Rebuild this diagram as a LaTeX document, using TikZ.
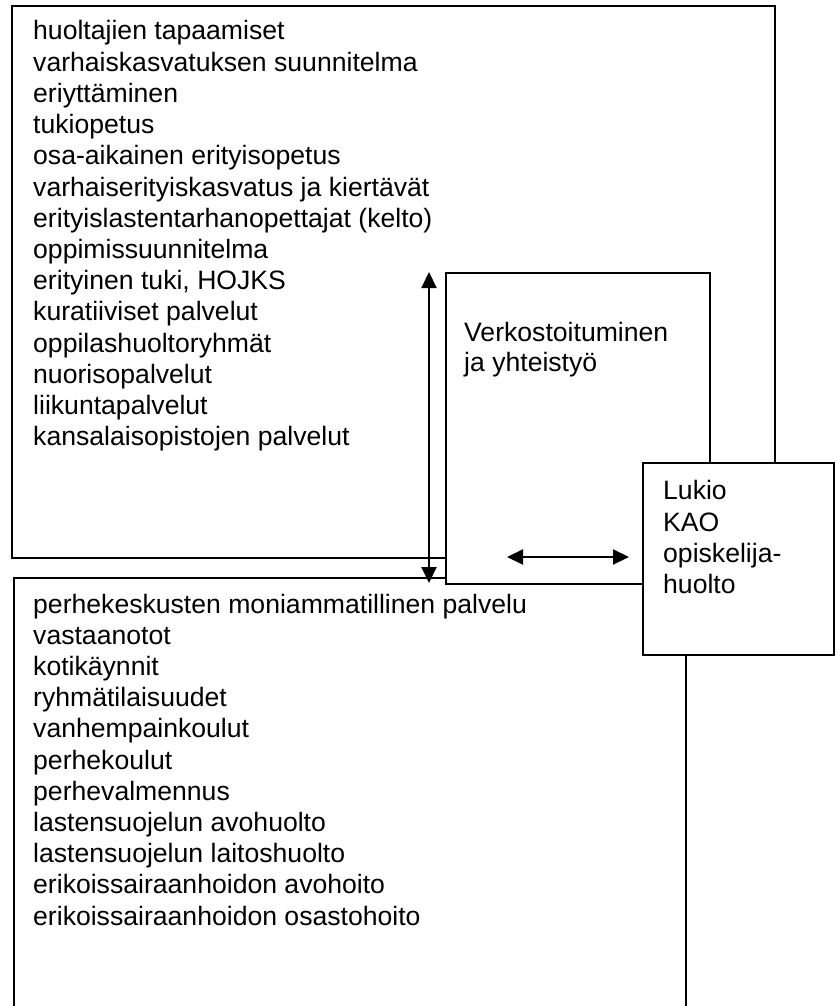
\documentclass[tikz,border=0pt]{standalone}
\usepackage{fontspec}
\setmainfont{Liberation Sans}
\usetikzlibrary{arrows.meta}
\begin{document}
\begin{tikzpicture}[x=1pt,y=-1pt,
  box/.style={draw=black,line width=1.7pt,inner sep=0pt,anchor=north west},
  txt/.style={anchor=base west,inner sep=0pt,font=\fontsize{26.6}{31.2}\selectfont},
  dbl/.style={line width=2pt,{Triangle[width=15pt,length=16pt]}-{Triangle[width=15pt,length=16pt]}}]
\useasboundingbox (0,0) rectangle (836,1006);
\clip (0,0) rectangle (836,1006);
% boxes
\node[box,minimum width=763pt,minimum height=552pt] (top) at (11,5) {};
\node[box,minimum width=672pt,minimum height=460pt] (bottom) at (13,577) {};
\node[box,fill=white,minimum width=264pt,minimum height=311pt] (verk) at (445,272) {};
% vertical arrow
\coordinate (vA) at (429,272);
\coordinate (vB) at (429,583);
\draw[dbl] (vA) -- (vB);
\node[box,fill=white,minimum width=191pt,minimum height=192pt] (lukio) at (642,462) {};
% horizontal arrow
\coordinate (hA) at (507,557);
\coordinate (hB) at (629,557);
\draw[dbl] (hA) -- (hB);
% texts top box
\foreach \t [count=\i] in {huoltajien tapaamiset, varhaiskasvatuksen suunnitelma, eriyttäminen, tukiopetus, osa-aikainen erityisopetus, varhaiserityiskasvatus ja kiertävät, erityislastentarhanopettajat (kelto), oppimissuunnitelma, {erityinen tuki, HOJKS}, kuratiiviset palvelut, oppilashuoltoryhmät, nuorisopalvelut, liikuntapalvelut, kansalaisopistojen palvelut}
  \node[txt] (a\i) at (33,{40+(\i-1)*31.2}) {\t};
% texts bottom box
\foreach \t [count=\i] in {perhekeskusten moniammatillinen palvelu, vastaanotot, kotikäynnit, ryhmätilaisuudet, vanhempainkoulut, perhekoulut, perhevalmennus, lastensuojelun avohuolto, lastensuojelun laitoshuolto, erikoissairaanhoidon avohoito, erikoissairaanhoidon osastohoito}
  \node[txt] (b\i) at (33,{613+(\i-1)*31.2}) {\t};
% Verk text
\node[txt] (v1) at (464,341) {Verkostoituminen};
\node[txt] (v2) at (464,371) {ja yhteistyö};
% Lukio text
\node[txt] (l1) at (663,499) {Lukio};
\node[txt] (l2) at (663,531) {KAO};
\node[txt] (l3) at (663,562) {opiskelija-};
\node[txt] (l4) at (663,593) {huolto};
\end{tikzpicture}
\end{document}
